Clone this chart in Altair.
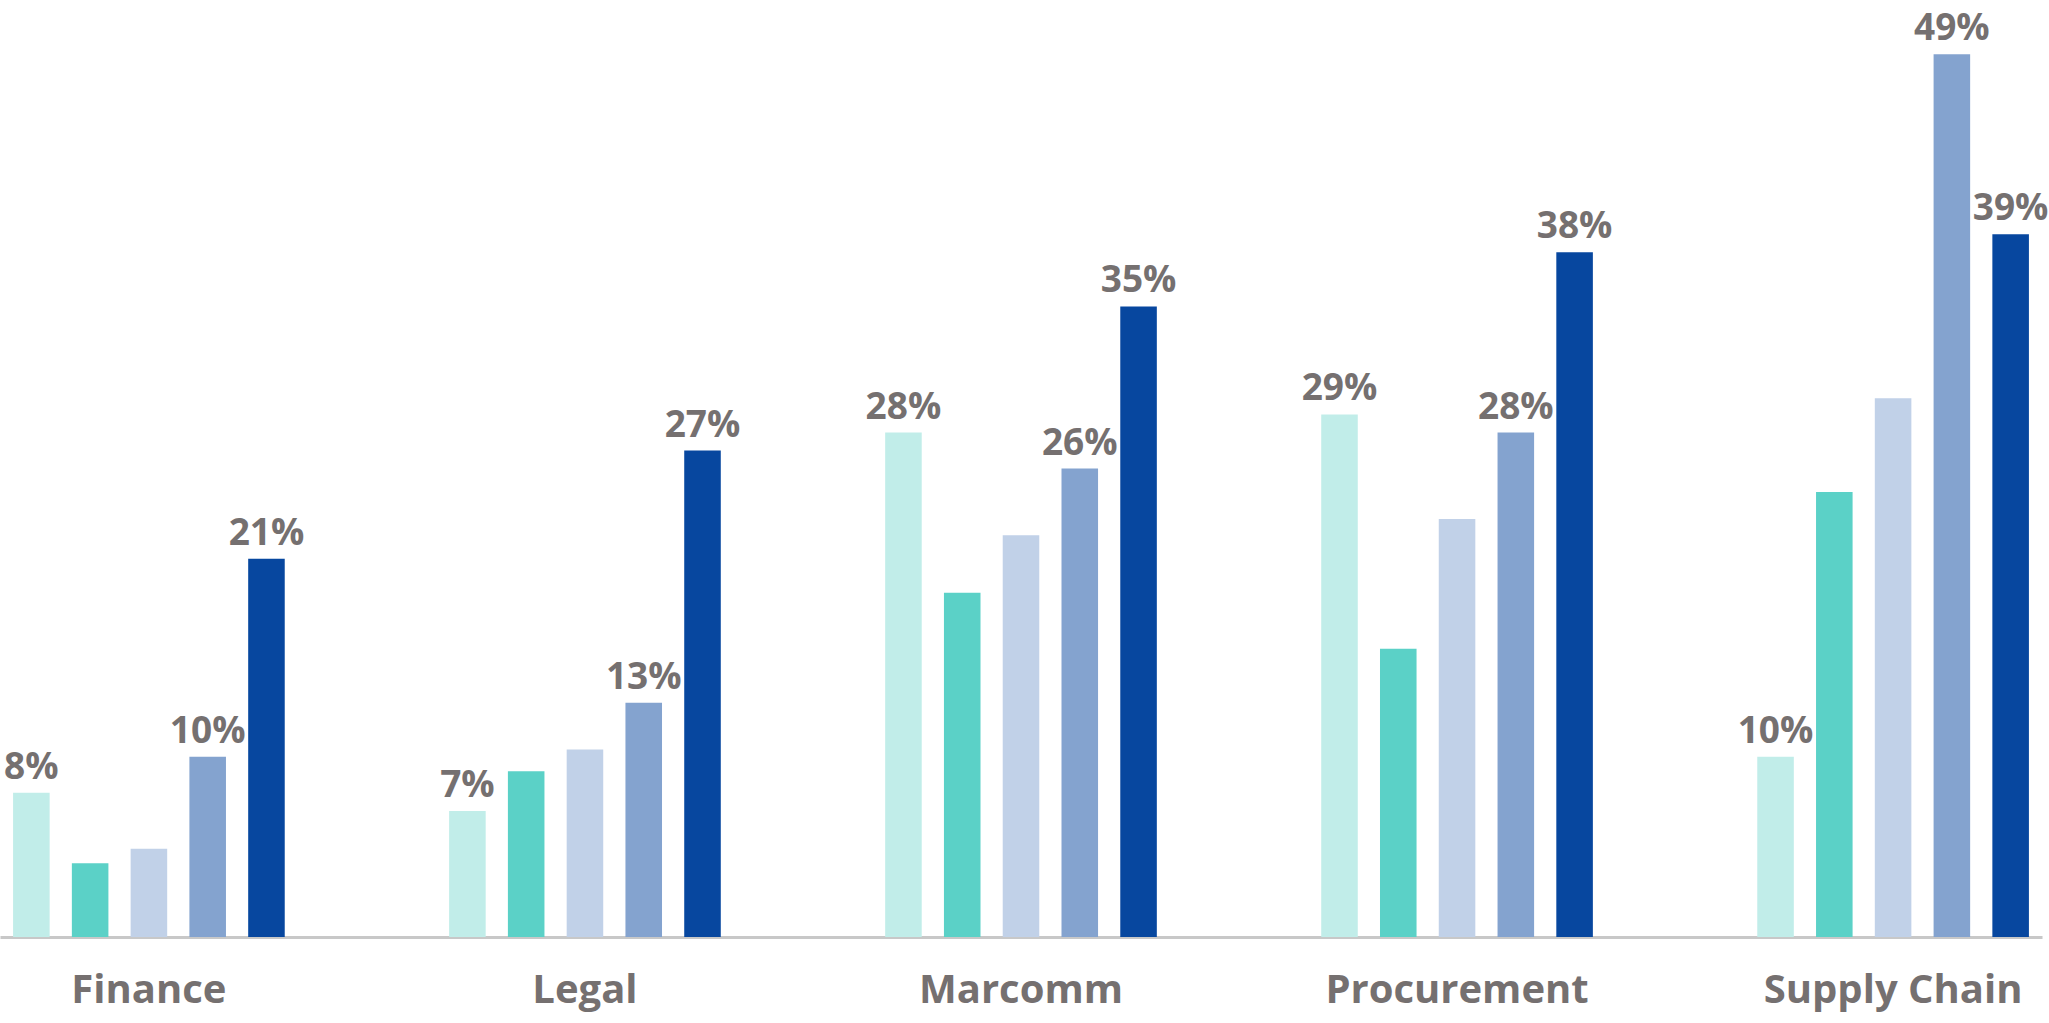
import altair as alt
import pandas as pd

groups = ["Finance", "Legal", "Marcomm", "Procurement", "Supply Chain"]
series = ["S1", "S2", "S3", "S4", "S5"]
s1 = [8, 7, 28, 29, 10]
s2 = [4.1, 9.2, 19.1, 16, 24.7]
s3 = [4.9, 10.4, 22.3, 23.2, 29.9]
s4 = [10, 13, 26, 28, 49]
s5 = [21, 27, 35, 38, 39]
labeled = ["S1", "S4", "S5"]
colors = ["#C1EDE9", "#5BD1C7", "#C1D1E8", "#84A3CF", "#07479F"]

rows = []
for si, vals in zip(series, [s1, s2, s3, s4, s5]):
    for g, v in zip(groups, vals):
        rows.append({"group": g, "series": si, "value": v,
                     "label": f"{round(v)}%" if si in labeled else ""})
df = pd.DataFrame(rows)

x = alt.X("group:N", sort=groups,
          scale=alt.Scale(paddingInner=0.377, paddingOuter=0.03),
          axis=alt.Axis(title=None, ticks=False, labelAngle=0, labelLimit=0,
                        labelFont="Open Sans", labelFontSize=40,
                        labelFontWeight="bold", labelColor="#757070",
                        labelPadding=33, domainColor="#C8C8C8",
                        domainWidth=3))
xo = alt.XOffset("series:N", sort=series,
                 scale=alt.Scale(paddingInner=0.378, paddingOuter=0))
y = alt.Y("value:Q", scale=alt.Scale(domain=[0, 51.45], nice=False),
          axis=None)

bars = alt.Chart(df).mark_bar().encode(
    x=x, xOffset=xo, y=y,
    color=alt.Color("series:N", sort=series,
                    scale=alt.Scale(domain=series, range=colors),
                    legend=None),
)

text = alt.Chart(df).transform_filter(alt.datum.label != "").mark_text(
    font="Open Sans", fontSize=37, fontWeight="bold", color="#757070",
    baseline="alphabetic", dy=-14,
).encode(x=x, xOffset=xo, y=y, text="label:N")

chart = (bars + text).properties(
    width=2042, height=927, padding={"left": 0, "top": 10, "right": 0, "bottom": 6}
).configure_view(stroke=None).configure_axis(grid=False)

chart.save("out.html", embed_options={"renderer": "svg", "actions": False})
